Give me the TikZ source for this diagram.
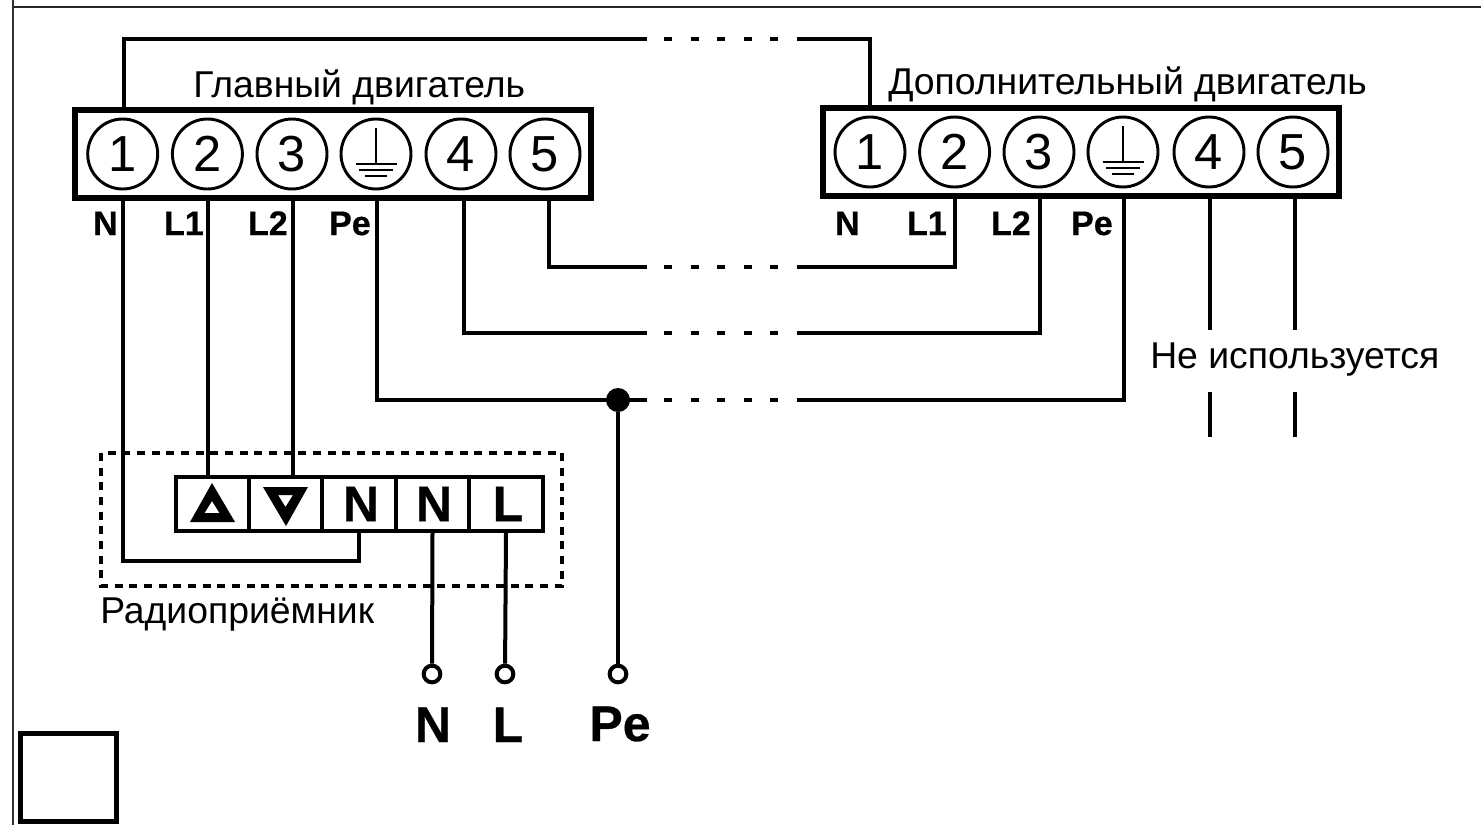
\documentclass[tikz,border=0pt]{standalone}
\usepackage{fontspec}
\setmainfont{Liberation Sans}
\newfontfamily\heavyfont[FakeBold=0.6]{Liberation Sans Bold}
\usetikzlibrary{calc}
\tikzset{
  wire/.style={line width=3pt,line join=miter,line cap=butt},
  gapline/.style={line width=3pt,dash pattern=on 6pt off 13.9pt},
  termbox/.style={draw,line width=4.5pt,rectangle,minimum height=66pt,inner sep=0pt},
  pin/.style={draw,circle,line width=2.2pt,minimum size=52.5pt,inner sep=0pt,font=\fontsize{38}{38}\selectfont},
  title/.style={inner sep=0pt,font=\fontsize{28}{28}\selectfont},
  tag/.style={inner sep=0pt,font=\fontsize{25.5}{26}\heavyfont},
  cell/.style={draw,line width=2.8pt,rectangle,minimum width=55pt,minimum height=40.5pt,inner sep=0pt},
  celltext/.style={inner sep=0pt,font=\fontsize{37.5}{37.5}\heavyfont},
  ring/.style={draw,circle,line width=3pt,minimum size=12.5pt,inner sep=0pt,fill=white},
  bigtag/.style={inner sep=0pt,font=\fontsize{37.5}{37.5}\heavyfont},
  earth/.style={line width=2.2pt},
}
\begin{document}
\begin{tikzpicture}[x=0.75pt,y=-0.75pt]
\useasboundingbox (0,0) rectangle (1481,825);
% frame fragments
\coordinate (frTL) at (13,7);
\coordinate (frTR) at (1481,7);
\coordinate (frBL) at (13,825);
\coordinate (frT0) at (13,0);
\draw[line width=1.5pt,black!80] (frT0) -- (frBL);
\draw[line width=1.5pt,black!85] (frTL) -- (frTR);
% corner square
\node[draw,line width=4pt,minimum width=72pt,minimum height=66pt,inner sep=0pt] (sq) at (68.5,777.5) {};
% terminal boxes
\node[termbox,minimum width=387.5pt] (mbox) at (333,154) {};
\node[termbox,minimum width=387pt] (abox) at (1080.5,152) {};
% main pins
\node[pin] (m1) at (122.7,154) {1};
\node[pin] (m2) at (207.4,154) {2};
\node[pin] (m3) at (292,154) {3};
\node[pin] (mg) at (376,154) {};
\node[pin] (m4) at (461,154) {4};
\node[pin] (m5) at (545,154) {5};
% aux pins
\node[pin] (a1) at (870,152) {1};
\node[pin] (a2) at (954.6,152) {2};
\node[pin] (a3) at (1039,152) {3};
\node[pin] (ag) at (1123,152) {};
\node[pin] (a4) at (1209,152) {4};
\node[pin] (a5) at (1293,152) {5};
% earth symbols
\foreach \g in {mg,ag}{
  \draw[earth] ($(\g)+(0,-26)$) -- ($(\g)+(0,10)$);
  \draw[earth] ($(\g)+(-20.5,10)$) -- ($(\g)+(20.5,10)$);
  \draw[earth] ($(\g)+(-17,16)$) -- ($(\g)+(17,16)$);
  \draw[earth] ($(\g)+(-11,22)$) -- ($(\g)+(11,22)$);
}
% titles
\node[title,anchor=base west] (tm) at (193,97) {Главный двигатель};
\node[title,anchor=base west] (ta) at (888,94) {Дополнительный двигатель};
\node[title,anchor=base west] (tu) at (1150,368) {Не используется};
\node[title,anchor=base west] (tr) at (100,623) {Радиоприёмник};
% tags
\node[tag,anchor=base east] (tn1) at (118,235) {N};
\node[tag,anchor=base east] (tl1) at (204,235) {L1};
\node[tag,anchor=base east] (tl2) at (288,235) {L2};
\node[tag,anchor=base east] (tpe) at (371,235) {Pe};
\node[tag,anchor=base east] (tn2) at (860,235) {N};
\node[tag,anchor=base east] (tl3) at (947,235) {L1};
\node[tag,anchor=base east] (tl4) at (1031,235) {L2};
\node[tag,anchor=base east] (tp2) at (1113,235) {Pe};
% radio receiver cells
\node[cell] (cu) at (212.5,504) {};
\node[cell] (cd) at (285.5,504) {};
\node[cell] (cn) at (359,504) {};
\node[cell] (co) at (432.5,504) {};
\node[cell] (cl) at (506,504) {};
\node[celltext] (cnt) at (361,504) {N};
\node[celltext] (cot) at (434,504) {N};
\node[celltext] (clt) at (508,504) {L};
\draw[fill=black,even odd rule,draw=none]
  (212,483) -- (235,522) -- (190,522) -- cycle
  (212,501) -- (219.5,513) -- (204.5,513) -- cycle;
\draw[fill=black,even odd rule,draw=none]
  (263,487) -- (308,487) -- (286,526) -- cycle
  (278,495) -- (293,495) -- (285.5,507) -- cycle;
% dashed receiver outline
\coordinate (rA) at (101,453);
\coordinate (rB) at (562,586);
\draw[line width=3pt,dash pattern=on 6pt off 5pt] (rA) rectangle (rB);
% coordinates of wires
\coordinate (w1) at (124,108);
\coordinate (w1t) at (124,39);
\coordinate (g1a) at (647,39);
\coordinate (g1b) at (664,39);
\coordinate (g1c) at (805,39);
\coordinate (x1t) at (870,39);
\coordinate (x1) at (870,107);
\coordinate (wN) at (123,200);
\coordinate (wNb) at (123,561);
\coordinate (cnj) at (359,561);
\coordinate (w2) at (208,200);
\coordinate (w3) at (292.5,200);
\coordinate (wP) at (377,200);
\coordinate (wPb) at (377,400);
\coordinate (g3a) at (647,400);
\coordinate (g3b) at (664,400);
\coordinate (g3c) at (805,400);
\coordinate (xPb) at (1124,400);
\coordinate (xP) at (1124,197);
\coordinate (w4) at (464,200);
\coordinate (w4b) at (464,333);
\coordinate (g2a) at (647,333);
\coordinate (g2b) at (664,333);
\coordinate (g2c) at (805,333);
\coordinate (x3b) at (1040,333);
\coordinate (x3) at (1040,197);
\coordinate (w5) at (549,200);
\coordinate (w5b) at (549,267);
\coordinate (g0a) at (647,267);
\coordinate (g0b) at (664,267);
\coordinate (g0c) at (805,267);
\coordinate (x2b) at (955,267);
\coordinate (x2) at (955,197);
\coordinate (x4) at (1210,197);
\coordinate (x4b) at (1210,330);
\coordinate (x4c) at (1210,392);
\coordinate (x4d) at (1210,437);
\coordinate (x5) at (1295,197);
\coordinate (x5b) at (1295,330);
\coordinate (x5c) at (1295,392);
\coordinate (x5d) at (1295,437);
% wires
\draw[wire] (w1) -- (w1t) -- (g1a);
\draw[gapline] (g1b) -- (g1c);
\draw[wire] (g1c) -- (x1t) -- (x1);
\draw[wire] (wN) -- (wNb) -- (cnj) -- (cnj |- cn.south);
\draw[wire] (w2) -- (w2 |- cu.north);
\draw[wire] (w3) -- (w3 |- cd.north);
\draw[wire] (w5) -- (w5b) -- (g0a);
\draw[gapline] (g0b) -- (g0c);
\draw[wire] (g0c) -- (x2b) -- (x2);
\draw[wire] (w4) -- (w4b) -- (g2a);
\draw[gapline] (g2b) -- (g2c);
\draw[wire] (g2c) -- (x3b) -- (x3);
\draw[wire] (wP) -- (wPb) -- (g3a);
\draw[gapline] (g3b) -- (g3c);
\draw[wire] (g3c) -- (xPb) -- (xP);
\draw[wire] (x4) -- (x4b);
\draw[wire] (x4c) -- (x4d);
\draw[wire] (x5) -- (x5b);
\draw[wire] (x5c) -- (x5d);
% terminals
\node[ring] (rn) at (432,674) {};
\node[ring] (rl) at (505,674) {};
\node[ring] (rp) at (618,674) {};
\node[circle,fill=black,minimum size=18pt,inner sep=0pt] (dot) at (618,400) {};
\draw[wire] (dot) -- (rp);
\draw[wire] (co.south) -- (rn);
\draw[wire] (cl.south) -- (rl);
\node[bigtag,anchor=base] (bn) at (433,742) {N};
\node[bigtag,anchor=base] (bl) at (508,742) {L};
\node[bigtag,anchor=base] (bp) at (620,741) {Pe};
\end{tikzpicture}
\end{document}
